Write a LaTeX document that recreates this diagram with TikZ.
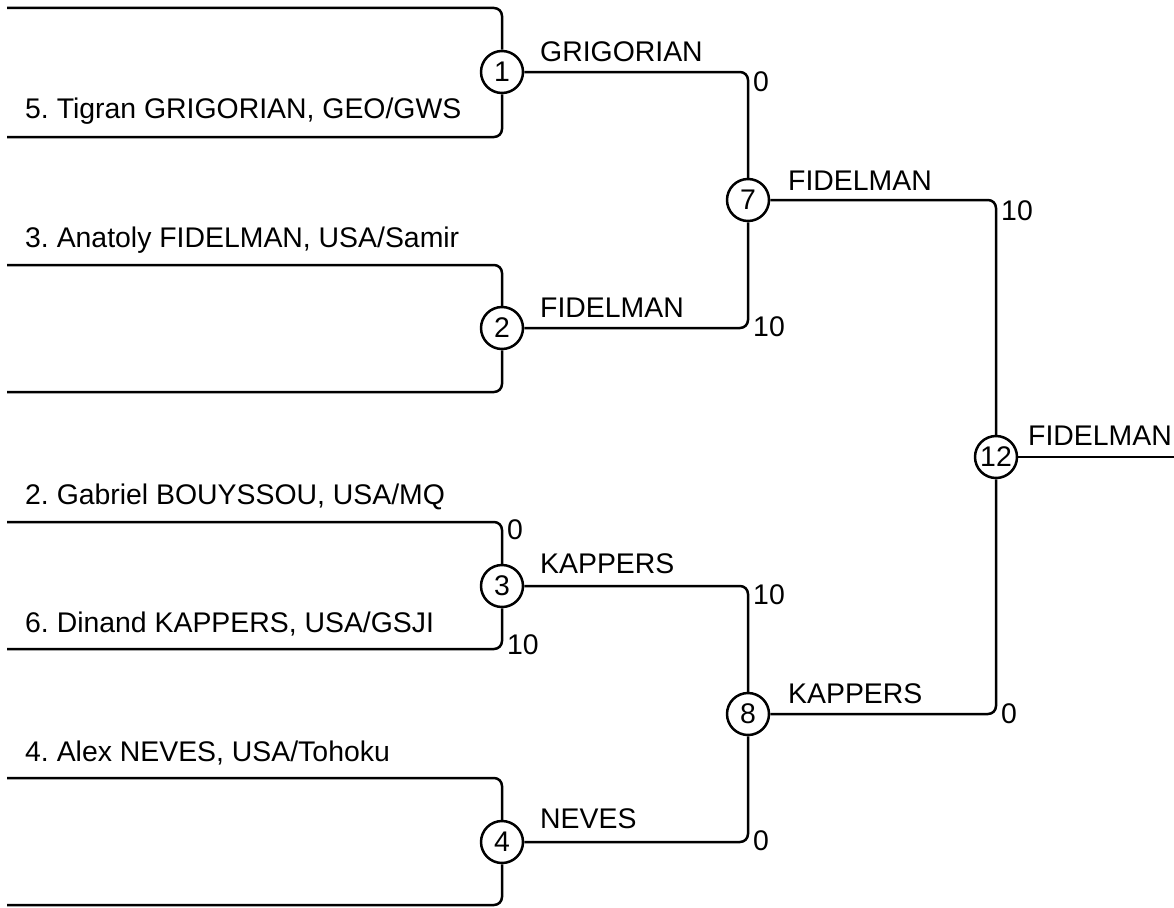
\documentclass[tikz,border=0pt]{standalone}
\usepackage{fontspec}
\setmainfont{Liberation Sans}
\frenchspacing
\usetikzlibrary{calc}
\tikzset{
  bigfont/.style={font=\fontsize{28.4}{33}\selectfont},
  match/.style={circle,draw,line width=2.5pt,minimum size=42pt,inner sep=0pt,bigfont},
  bracket/.style={line width=2.5pt,rounded corners=8pt},
  player/.style={anchor=base west,inner sep=0pt,bigfont},
  winner/.style={anchor=base west,inner sep=0pt,bigfont},
  score/.style={anchor=west,inner sep=0pt,bigfont},
}
\begin{document}
\begin{tikzpicture}[x=1pt,y=-1pt]
\useasboundingbox (0,0) rectangle (1174,907);

% match circles
\node[match] (m1) at (502,72) {1};
\node[match] (m2) at (502,328) {2};
\node[match] (m3) at (502,586) {3};
\node[match] (m4) at (502,842) {4};
\node[match] (m7) at (748,200) {7};
\node[match] (m8) at (748,714) {8};
\node[match] (m12) at (996,457) {12};

% first round lines
\foreach \m/\t/\b in {1/8/137, 2/265/392, 3/522/649, 4/778/905} {
  \coordinate (t\m) at (7,\t);
  \coordinate (b\m) at (7,\b);
  \draw[bracket] (t\m) -| (m\m);
  \draw[bracket] (b\m) -| (m\m);
}

% players
\node[player] (p5) at (25,118) {5. Tigran GRIGORIAN, GEO/GWS};
\node[player] (p3) at (25,247) {3. Anatoly FIDELMAN, USA/Samir};
\node[player] (p2) at (25,504) {2. Gabriel BOUYSSOU, USA/MQ};
\node[player] (p6) at (25,632) {6. Dinand KAPPERS, USA/GSJI};
\node[player] (p4) at (25,761) {4. Alex NEVES, USA/Tohoku};

% later rounds
\draw[bracket] (m1) -| (m7);
\draw[bracket] (m2) -| (m7);
\draw[bracket] (m3) -| (m8);
\draw[bracket] (m4) -| (m8);
\draw[bracket] (m7) -| (m12);
\draw[bracket] (m8) -| (m12);
\coordinate (end) at (1174,457);
\draw[bracket] (m12) -- (end);

% winners
\node[winner] (w1) at (540,62) {GRIGORIAN};
\node[winner] (w2) at (540,317) {FIDELMAN};
\node[winner] (w3) at (540,573) {KAPPERS};
\node[winner] (w4) at (540,828) {NEVES};
\node[winner] (w7) at (788,190) {FIDELMAN};
\node[winner] (w8) at (788,703) {KAPPERS};
\node[winner] (w12) at (1028,445) {FIDELMAN};

% scores
\node[score] at ($(t3 -| m3)+(5,8)$) {0};
\node[score] at ($(b3 -| m3)+(5,-4)$) {10};
\node[score] at ($(m1 -| m7)+(5,10)$) {0};
\node[score] at ($(m2 -| m7)+(5,-1)$) {10};
\node[score] at ($(m3 -| m8)+(5,9)$) {10};
\node[score] at ($(m4 -| m8)+(5,-1)$) {0};
\node[score] at ($(m7 -| m12)+(5,11)$) {10};
\node[score] at ($(m8 -| m12)+(5,0)$) {0};
\end{tikzpicture}
\end{document}
